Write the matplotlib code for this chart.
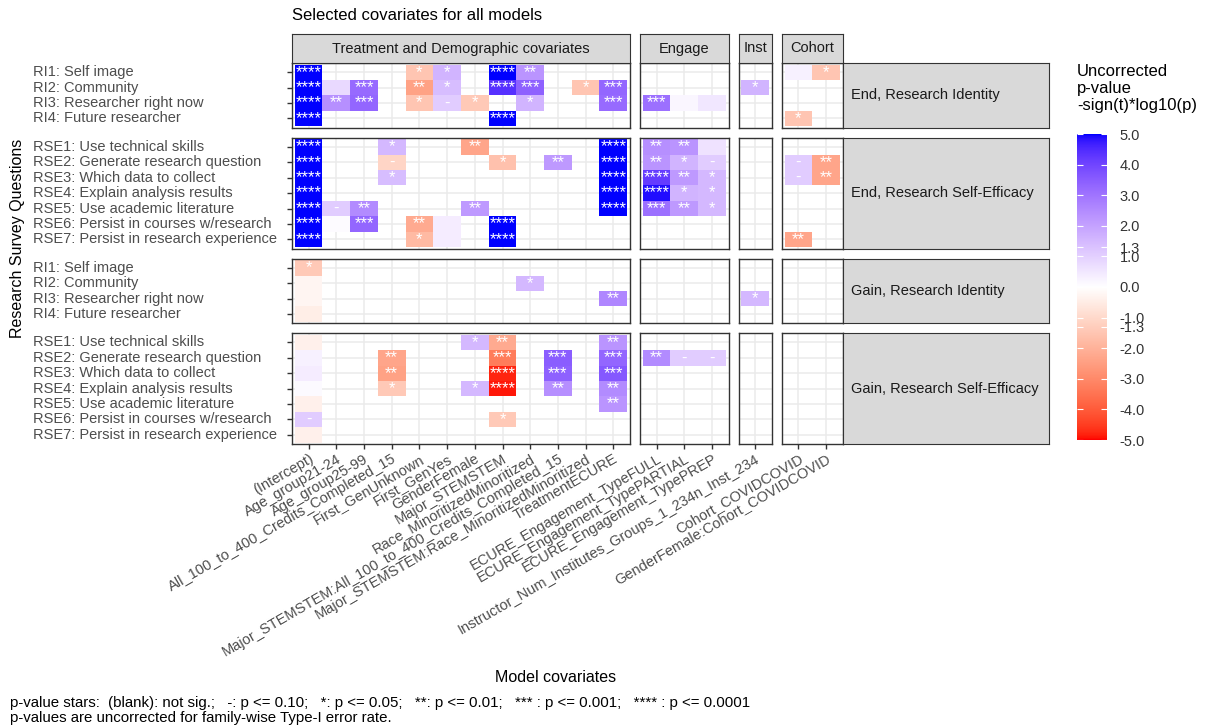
import numpy as np
import matplotlib
matplotlib.use('Agg')
import matplotlib.pyplot as plt
from matplotlib.colors import ListedColormap, Normalize
from matplotlib.cm import ScalarMappable
from matplotlib.transforms import blended_transform_factory

plt.rcParams['font.family'] = ['Liberation Sans', 'DejaVu Sans']

NA = np.nan

# covariates (x axis), split in facet columns
covariates = ['(Intercept)', 'Age_group21-24', 'Age_group25-99',
              'All_100_to_400_Credits_Completed_15', 'First_GenUnknown', 'First_GenYes',
              'GenderFemale', 'Major_STEMSTEM', 'Race_MinoritizedMinoritized',
              'Major_STEMSTEM:All_100_to_400_Credits_Completed_15',
              'Major_STEMSTEM:Race_MinoritizedMinoritized', 'TreatmentECURE',
              'ECURE_Engagement_TypeFULL', 'ECURE_Engagement_TypePARTIAL',
              'ECURE_Engagement_TypePREP',
              'Instructor_Num_Institutes_Groups_1_234n_Inst_234',
              'Cohort_COVIDCOVID', 'GenderFemale:Cohort_COVIDCOVID']
col_groups = ['Treatment and Demographic covariates', 'Engage', 'Inst', 'Cohort']
col_sizes = [12, 3, 1, 2]

row_groups = ['End, Research Identity', 'End, Research Self-Efficacy',
              'Gain, Research Identity', 'Gain, Research Self-Efficacy']
ri_items = ['RI1: Self image', 'RI2: Community', 'RI3: Researcher right now',
            'RI4: Future researcher']
rse_items = ['RSE1: Use technical skills', 'RSE2: Generate research question',
             'RSE3: Which data to collect', 'RSE4: Explain analysis results',
             'RSE5: Use academic literature', 'RSE6: Persist in courses w/research',
             'RSE7: Persist in research experience']

# -sign(t)*log10(p), one row per question, 18 covariates
end_ri = [
    [5, NA, NA, NA, -1.5, 1.6, NA, 5, 2.3, NA, NA, NA, NA, NA, NA, NA, 0.3, -1.5],
    [5, 0.8, 3.2, NA, -2.4, 1.4, NA, 4.4, 3.4, NA, -1.5, 3.3, NA, NA, NA, 1.6, NA, NA],
    [5, 2.4, 3.3, NA, -1.5, 1.1, -1.4, NA, 1.6, NA, NA, 3.2, 3.1, 0.2, 0.5, NA, NA, NA],
    [5, NA, NA, NA, NA, NA, NA, 5, NA, NA, NA, NA, NA, NA, NA, NA, -1.5, NA],
]
end_rse = [
    [5, NA, NA, 1.5, NA, NA, -2.3, NA, NA, NA, NA, 5, 2.4, 2.3, 0.6, NA, NA, NA],
    [5, NA, NA, -1.1, NA, NA, NA, -1.6, NA, 2.2, NA, 5, 2.3, 1.6, 1.1, NA, 1.1, -2.3],
    [5, NA, NA, 1.4, NA, NA, NA, NA, NA, NA, NA, 5, 4.2, 2.2, 1.5, NA, 1.1, -2.3],
    [5, NA, NA, NA, NA, NA, NA, NA, NA, NA, NA, 5, 4.9, 1.6, 1.5, NA, NA, NA],
    [5, 1.1, 2.5, NA, NA, NA, 2.2, NA, NA, NA, NA, 5, 3.1, 2.2, 1.5, NA, NA, NA],
    [5, 0.08, 3.3, NA, -2.2, 0.4, NA, 5, NA, NA, NA, NA, NA, NA, NA, NA, NA, NA],
    [5, NA, NA, NA, -1.8, 0.4, NA, 5, NA, NA, NA, NA, NA, NA, NA, NA, -2.3, NA],
]
gain_ri = [
    [-1.4, NA, NA, NA, NA, NA, NA, NA, NA, NA, NA, NA, NA, NA, NA, NA, NA, NA],
    [-0.25, NA, NA, NA, NA, NA, NA, NA, 1.5, NA, NA, NA, NA, NA, NA, NA, NA, NA],
    [-0.25, NA, NA, NA, NA, NA, NA, NA, NA, NA, NA, 2.6, NA, NA, NA, 1.5, NA, NA],
    [-0.45, NA, NA, NA, NA, NA, NA, NA, NA, NA, NA, NA, NA, NA, NA, NA, NA, NA],
]
gain_rse = [
    [-0.4, NA, NA, NA, NA, NA, 1.5, -2.2, NA, NA, NA, 2.3, NA, NA, NA, NA, NA, NA],
    [0.3, NA, NA, -2.3, NA, NA, NA, -3.3, NA, 3.5, NA, 3.3, 2.5, 1.1, 1.1, NA, NA, NA],
    [0.4, NA, NA, -2.4, NA, NA, NA, -4.8, NA, 3.4, NA, 3.6, NA, NA, NA, NA, NA, NA],
    [0.1, NA, NA, -1.4, NA, NA, 1.5, -4.9, NA, 2.4, NA, 2.5, NA, NA, NA, NA, NA, NA],
    [-0.4, NA, NA, NA, NA, NA, NA, NA, NA, NA, NA, 2.3, NA, NA, NA, NA, NA, NA],
    [1.1, NA, NA, NA, NA, NA, NA, -1.4, NA, NA, NA, NA, NA, NA, NA, NA, NA, NA],
    [-0.4, NA, NA, NA, NA, NA, NA, NA, NA, NA, NA, NA, NA, NA, NA, NA, NA, NA],
]
blocks = [end_ri, end_rse, gain_ri, gain_rse]
block_labels = [ri_items, rse_items, ri_items, rse_items]

cbar_ticks = [5, 4, 3, 2, 1.3, 1, 0, -1, -1.3, -2, -3, -4, -5]


# colour ramp white->red / white->blue interpolated in CIELAB (like ggplot)
M = np.array([[0.4124564, 0.3575761, 0.1804375],
              [0.2126729, 0.7151522, 0.0721750],
              [0.0193339, 0.1191920, 0.9503041]])
WHITE = np.array([0.95047, 1.0, 1.08883])


def to_lab(rgb):
    rgb = np.asarray(rgb, float)
    lin = np.where(rgb <= 0.04045, rgb / 12.92, ((rgb + 0.055) / 1.055) ** 2.4)
    xyz = lin @ M.T / WHITE
    f = np.where(xyz > 0.008856, np.cbrt(xyz), 7.787 * xyz + 16 / 116)
    return np.array([116 * f[1] - 16, 500 * (f[0] - f[1]), 200 * (f[1] - f[2])])


def to_rgb(lab):
    fy = (lab[..., 0] + 16) / 116
    fx = fy + lab[..., 1] / 500
    fz = fy - lab[..., 2] / 200
    f = np.stack([fx, fy, fz], -1)
    xyz = np.where(f ** 3 > 0.008856, f ** 3, (f - 16 / 116) / 7.787) * WHITE
    lin = np.clip(xyz @ np.linalg.inv(M).T, 0, 1)
    rgb = np.where(lin <= 0.0031308, 12.92 * lin, 1.055 * lin ** (1 / 2.4) - 0.055)
    return np.clip(rgb, 0, 1)


lab_w, lab_r, lab_b = to_lab([1, 1, 1]), to_lab([1, 0, 0]), to_lab([0, 0, 1])
tt = np.linspace(-1, 1, 511)[:, None]
lab = np.where(tt < 0, lab_w + (-tt) * (lab_r - lab_w), lab_w + tt * (lab_b - lab_w))
cmap = ListedColormap(to_rgb(lab))
norm = Normalize(-5, 5)


def stars(v):
    a = abs(v)
    if a >= 4:
        return '****'
    if a >= 3:
        return '***'
    if a >= 2:
        return '**'
    if a >= 1.3:
        return '*'
    if a >= 1:
        return '-'
    return ''


W, H = 1216, 727
fig = plt.figure(figsize=(W / 100, H / 100), dpi=100)


def add_px(x0, y0, x1, y1):
    return fig.add_axes([x0 / W, 1 - y1 / H, (x1 - x0) / W, (y1 - y0) / H])


ux, uy, ex = 27.7, 15.4, 0.1
col_left = [292]
for n in col_sizes[:-1]:
    col_left.append(col_left[-1] + (n + 2 * ex) * ux + 10)
row_top = [63]
for b in blocks[:-1]:
    row_top.append(row_top[-1] + (len(b) + 2 * ex) * uy + 10)

axcol = '#333333'
txtcol = '#4D4D4D'

for ri, block in enumerate(blocks):
    data = np.array(block, float)
    nr = data.shape[0]
    y0 = row_top[ri]
    y1 = y0 + (nr + 2 * ex) * uy
    c0 = 0
    for ci, n in enumerate(col_sizes):
        sub = data[:, c0:c0 + n]
        x0 = col_left[ci]
        x1 = x0 + (n + 2 * ex) * ux
        ax = add_px(x0, y0, x1, y1)
        ax.pcolormesh(np.arange(n + 1) - 0.5, np.arange(nr + 1) - 0.5,
                      np.ma.masked_invalid(sub), cmap=cmap, norm=norm)
        for i in range(nr):
            for j in range(n):
                if not np.isnan(sub[i, j]):
                    ax.text(j, i, stars(sub[i, j]), color='white', fontsize=12,
                            ha='center', va='center')
        ax.set_xlim(-0.5 - ex, n - 0.5 + ex)
        ax.set_ylim(nr - 0.5 + ex, -0.5 - ex)
        ax.set_xticks(range(n))
        ax.set_yticks(range(nr))
        ax.set_yticklabels([])
        ax.set_axisbelow(True)
        ax.grid(True, color='#EBEBEB', lw=1.1)
        for s in ax.spines.values():
            s.set_color(axcol)
            s.set_linewidth(1.0)
        ax.tick_params(color=axcol, length=3.5, width=1, labelsize=10.5,
                       labelcolor=txtcol, pad=2)
        if ci == 0:
            # left-aligned question labels
            tr = blended_transform_factory(fig.transFigure, ax.transData)
            for i, lab_txt in enumerate(block_labels[ri]):
                ax.text(33 / W, i, lab_txt, transform=tr, ha='left', va='center',
                        fontsize=10.5, color=txtcol)
        else:
            ax.tick_params(left=False, labelleft=False)
        if ri == len(blocks) - 1:
            ax.set_xticklabels(covariates[c0:c0 + n], rotation=30, ha='right',
                               va='top', rotation_mode='anchor')
        else:
            ax.tick_params(bottom=False, labelbottom=False)

        # facet strips
        if ri == 0:
            st = add_px(x0, 34, x1, 63)
            st.set_facecolor('#D9D9D9')
            st.set_xticks([])
            st.set_yticks([])
            for s in st.spines.values():
                s.set_color(axcol)
            st.text(0.5, 0.5, col_groups[ci], ha='center', va='center',
                    fontsize=10.5, color='#1A1A1A', transform=st.transAxes)
        if ci == len(col_sizes) - 1:
            st = add_px(x1, y0, 1049, y1)
            st.set_facecolor('#D9D9D9')
            st.set_xticks([])
            st.set_yticks([])
            for s in st.spines.values():
                s.set_color(axcol)
            st.text(8 / (1049 - x1), 0.5, row_groups[ri], ha='left', va='center',
                    fontsize=10.5, color='#1A1A1A', transform=st.transAxes)
        c0 += n

# colour bar legend
cax = add_px(1077, 134, 1107, 440)
cb = fig.colorbar(ScalarMappable(norm=norm, cmap=cmap), cax=cax, ticks=cbar_ticks)
cb.outline.set_visible(False)
cax.set_yticklabels([f'{t:.1f}' for t in cbar_ticks])
cax.tick_params(length=0, pad=9, labelsize=10.5, labelcolor='#333333')
cax.hlines(cbar_ticks, 0, 0.2, colors='white', lw=0.8, transform=cax.get_yaxis_transform())
cax.hlines(cbar_ticks, 0.8, 1, colors='white', lw=0.8, transform=cax.get_yaxis_transform())
fig.text(1077 / W, 1 - 64 / H, 'Uncorrected\np-value\n-sign(t)*log10(p)',
         ha='left', va='top', fontsize=12, linespacing=1.15)

fig.text(292 / W, 1 - 15 / H, 'Selected covariates for all models', fontsize=12,
         va='center', ha='left')
fig.text(18 / W, 1 - 238 / H, 'Research Survey Questions', rotation=90,
         ha='center', va='center', fontsize=11.5)
fig.text(556 / W, 1 - 678 / H, 'Model covariates', ha='center', va='center',
         fontsize=11.5)
fig.text(10 / W, 1 - 703 / H,
         'p-value stars:  (blank): not sig.;   -: p <= 0.10;   *: p <= 0.05;   '
         '**: p <= 0.01;   *** : p <= 0.001;   **** : p <= 0.0001',
         ha='left', va='center', fontsize=10.8)
fig.text(10 / W, 1 - 718 / H,
         'p-values are uncorrected for family-wise Type-I error rate.',
         ha='left', va='center', fontsize=10.8)

fig.savefig('out.png', dpi=100)
